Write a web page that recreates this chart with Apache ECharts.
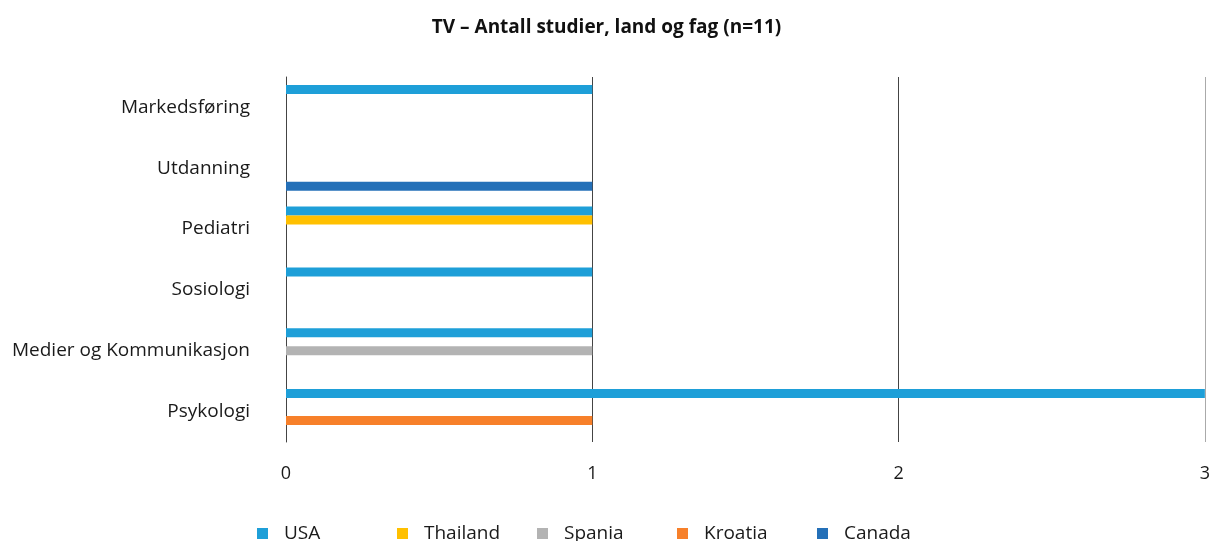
<!DOCTYPE html>
<html>
<head>
<meta charset="utf-8">
<script src="https://cdn.jsdelivr.net/npm/echarts@6/dist/echarts.min.js"></script>
<style>
  html, body { margin: 0; padding: 0; background: #fff; }
  #chart { width: 1213px; height: 541px; }
</style>
</head>
<body>
<div id="chart"></div>
<script>
// fag, nedenfra og opp
const categories = ['Psykologi', 'Medier og Kommunikasjon', 'Sosiologi', 'Pediatri', 'Utdanning', 'Markedsføring'];
const usa = [3, 1, 1, 1, 0, 1];
const thailand = [0, 0, 0, 1, 0, 0];
const spania = [0, 1, 0, 0, 0, 0];
const kroatia = [1, 0, 0, 0, 0, 0];
const canada = [0, 0, 0, 0, 1, 0];
const xTicks = [0, 1, 2, 3];

const seriesNames = ['USA', 'Thailand', 'Spania', 'Kroatia', 'Canada'];
const seriesData = [usa, thailand, spania, kroatia, canada];
const colors = ['#1e9fd8', '#ffc000', '#b3b3b3', '#f7802a', '#2470b8'];
const legendLeft = [252, 392, 532, 672, 812];

const font = 'Open Sans';
let chart = echarts.init(document.getElementById('chart'));

let option = {
  animation: false,
  title: {
    text: 'TV – Antall studier, land og fag (n=11)',
    left: 'center',
    top: 13,
    textStyle: { fontFamily: font, fontSize: 19, fontWeight: 'bold', color: '#111' }
  },
  legend: seriesNames.map((name, i) => ({
    data: [name],
    left: legendLeft[i],
    top: 519,
    icon: 'rect',
    itemWidth: 11,
    itemHeight: 11,
    itemGap: 0,
    textStyle: { fontFamily: font, fontSize: 19, color: '#1a1a1a', padding: [0, 0, 0, 11] }
  })),
  grid: {
    left: 286,
    right: 7,
    top: 77,
    bottom: 99
  },
  xAxis: {
    type: 'value',
    min: xTicks[0],
    max: xTicks[xTicks.length - 1],
    interval: 1,
    axisLine: { show: false },
    axisTick: { show: false },
    axisLabel: { margin: 23, fontFamily: font, fontSize: 18, color: '#1a1a1a', verticalAlign: 'top' },
    splitLine: {
      show: true,
      lineStyle: { color: ['#444', '#444', '#444', '#aaa'], width: 1 }
    }
  },
  yAxis: {
    type: 'category',
    data: categories,
    axisLine: { show: true, lineStyle: { color: '#444', width: 1 } },
    axisTick: { show: false },
    axisLabel: { margin: 36, fontFamily: font, fontSize: 19, color: '#1a1a1a' }
  },
  series: seriesNames.map((name, i) => ({
    name: name,
    type: 'bar',
    data: seriesData[i],
    barWidth: 9,
    barGap: '0%',
    itemStyle: { color: colors[i] }
  }))
};

chart.setOption(option);
</script>
</body>
</html>
